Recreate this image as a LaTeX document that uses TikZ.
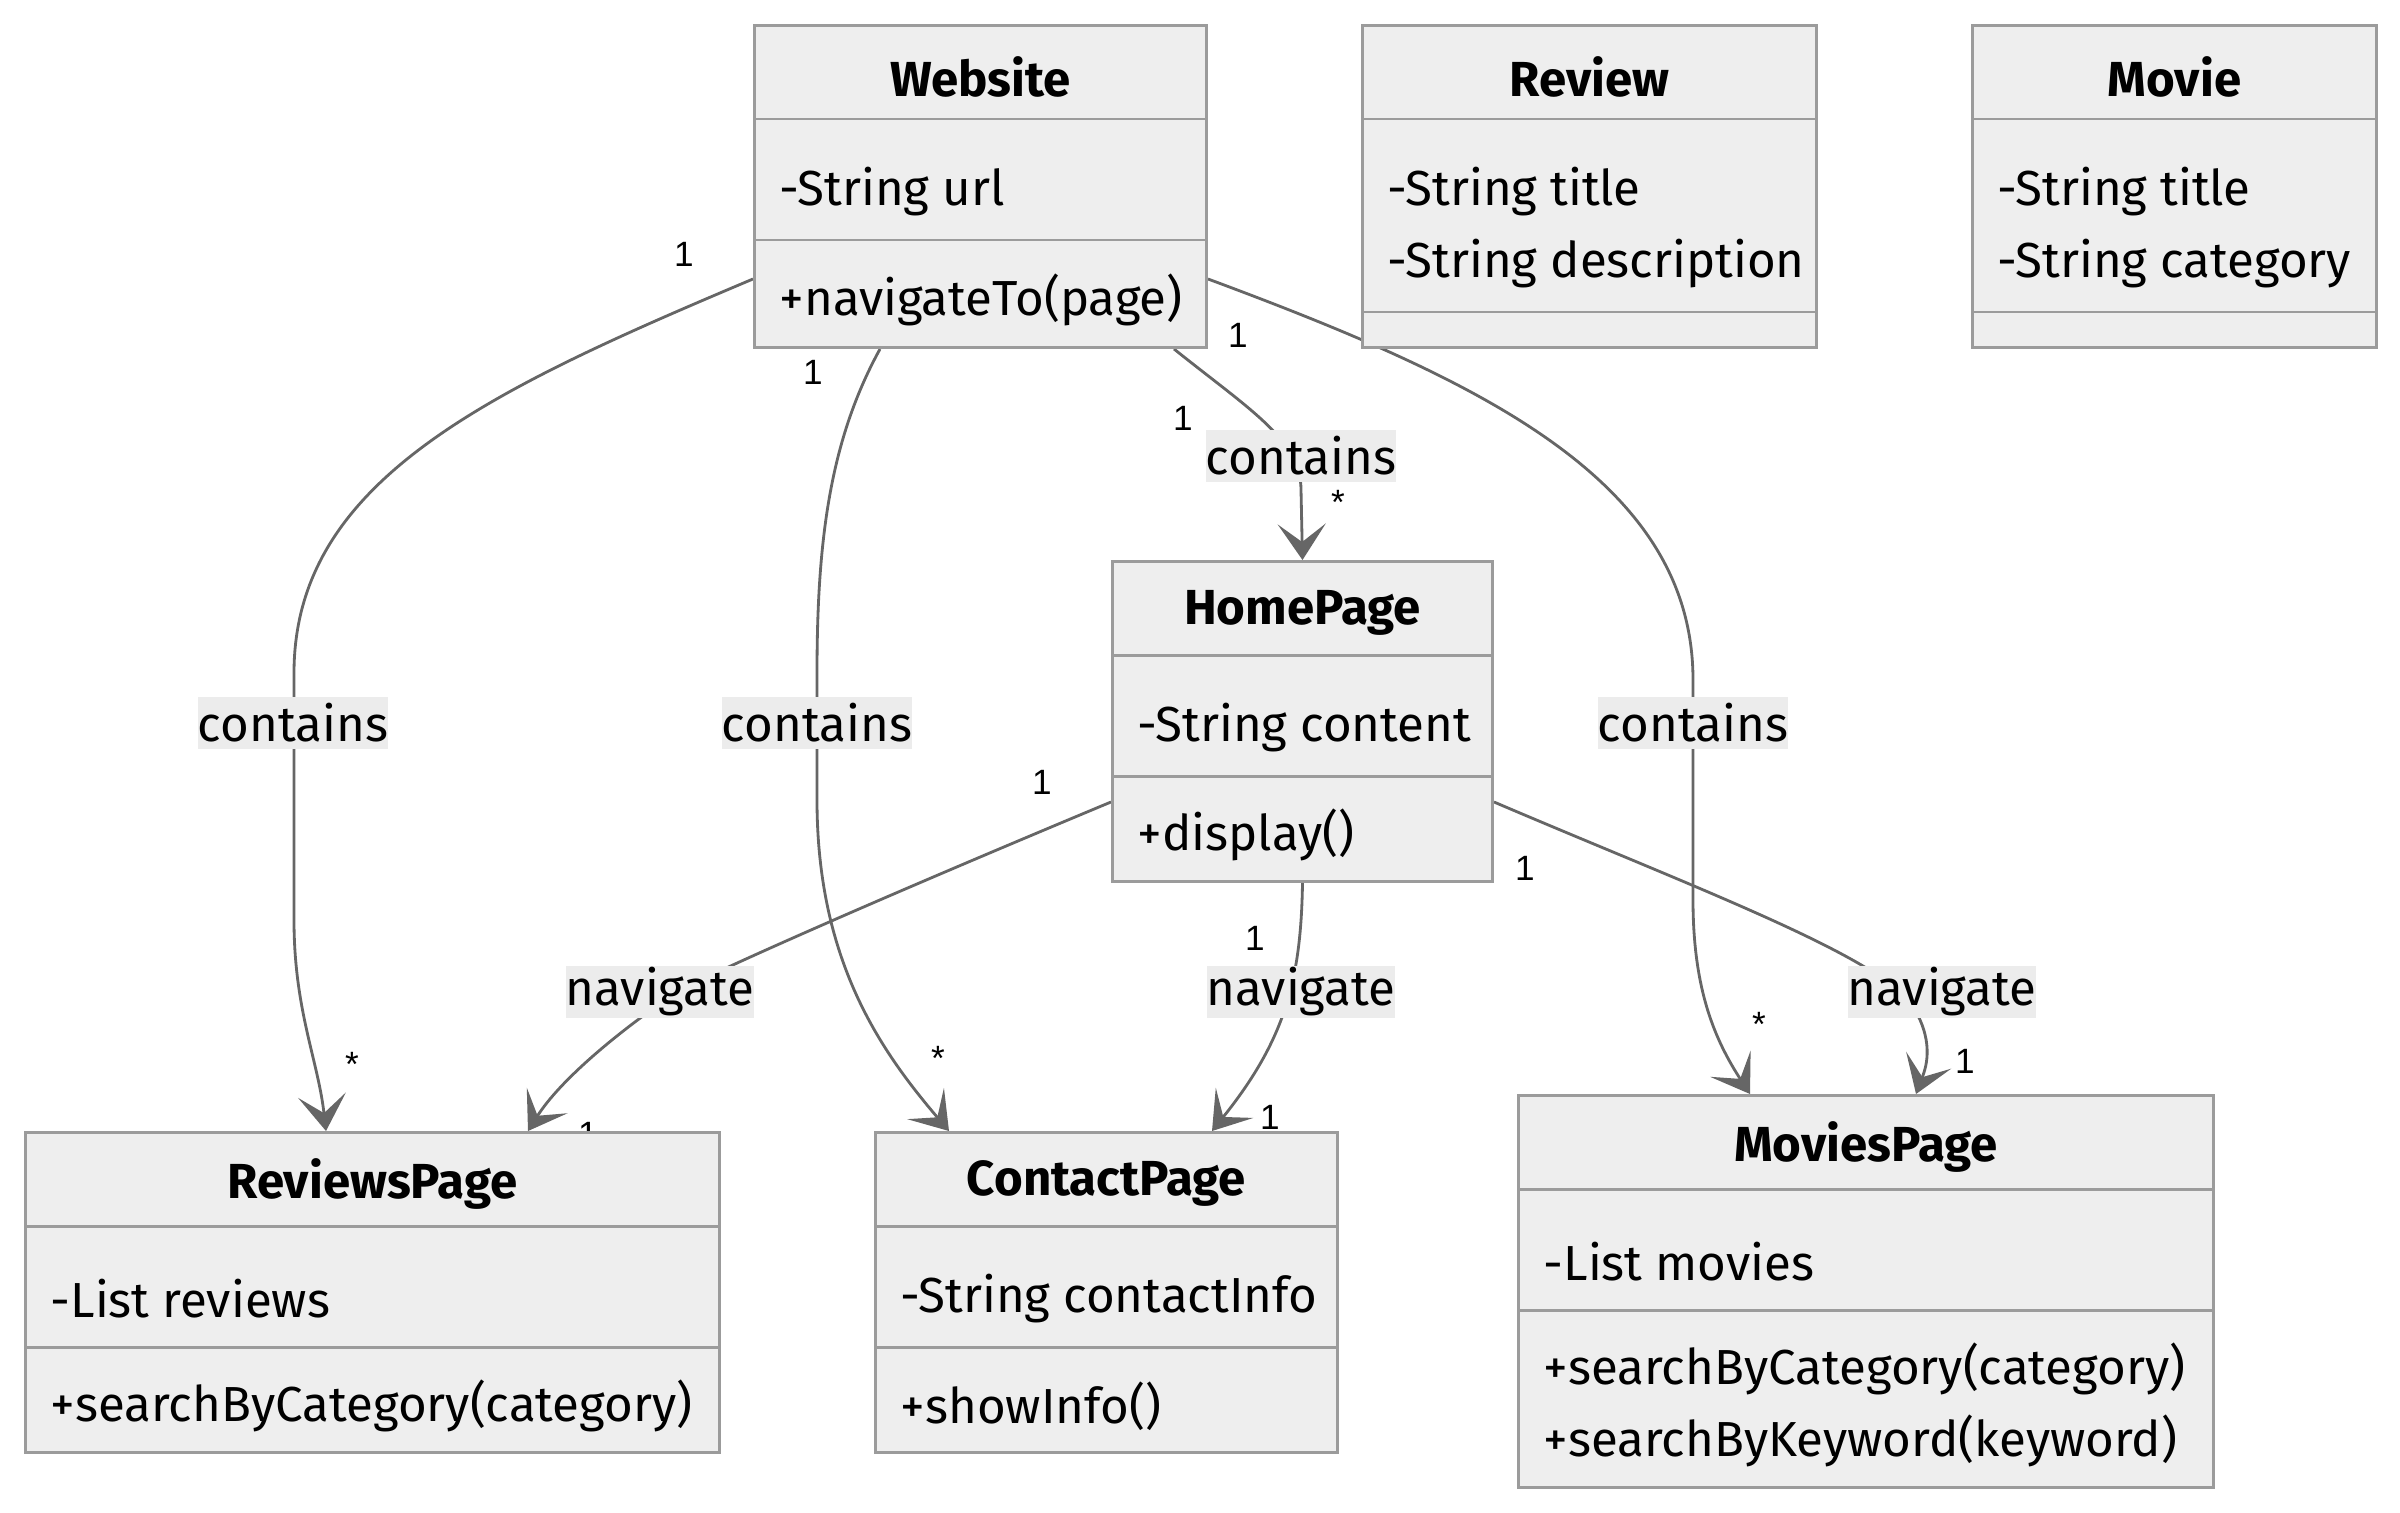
\documentclass[tikz,border=0pt]{standalone}
\usepackage{fontspec}
\setmainfont{Fira Sans}
\newfontfamily\multfont{Liberation Sans}
\usetikzlibrary{arrows.meta, calc, backgrounds}
\definecolor{classfill}{RGB}{238,238,238}
\definecolor{classline}{RGB}{155,155,155}
\definecolor{edgegray}{RGB}{102,102,102}
\definecolor{labelfill}{RGB}{236,236,236}

% name, north west corner, width, header/attribute/method heights, title, attributes, methods
\newcommand{\umlclass}[9]{%
  \node[classbox, minimum width=#3*0.01cm, minimum height={(#4+#5+#6)*0.01cm}] (#1) at #2 {};
  \draw[divider] ($(#1.north west)+(0,#4)$) -- ($(#1.north east)+(0,#4)$);
  \draw[divider] ($(#1.north west)+(0,#4+#5)$) -- ($(#1.north east)+(0,#4+#5)$);
  \node[titletext] (#1-title) at ($(#1.north)+(0,#4/2+5)$) {#7};
  \node[membertext] (#1-attr) at ($(#1.north west)+(26,#4+#5/2+12)$) {#8};
  \node[membertext] (#1-meth) at ($(#1.north west)+(26,#4+#5+#6/2+7)$) {#9};
}

\begin{document}
\begin{tikzpicture}[
  x=0.01cm, y=-0.01cm,
  classbox/.style={draw=classline, fill=classfill, line width=0.85pt, inner sep=0pt, anchor=north west},
  divider/.style={draw=classline, line width=0.85pt},
  titletext/.style={font=\fontsize{14}{17}\selectfont\bfseries, inner sep=0pt},
  membertext/.style={font=\fontsize{14}{20.5}\selectfont, align=left, inner sep=0pt, anchor=west},
  assoc/.style={draw=edgegray, line width=0.8pt, -{Stealth[length=0.36cm, width=0.48cm, inset=0.18cm]}},
  edgelabel/.style={fill=labelfill, font=\fontsize{14}{17}\selectfont, inner sep=0pt, minimum width=1.85cm, minimum height=0.52cm},
  mult/.style={font=\multfont\fontsize{10}{11}\selectfont, inner sep=0pt}
]
  \useasboundingbox (0,0) rectangle (2400,1512);

  \umlclass{website}{(753,24)}{452}{95}{121}{106}{Website}{-String url}{+navigateTo(page)}
  \umlclass{review}{(1361,24)}{454}{95}{193}{34}{Review}{-String title\\-String description}{}
  \umlclass{movie}{(1971,24)}{404}{95}{193}{34}{Movie}{-String title\\-String category}{}
  \umlclass{home}{(1111,560)}{380}{95}{121}{104}{HomePage}{-String content}{+display()}
  \umlclass{reviews}{(24,1131)}{694}{95}{121}{104}{ReviewsPage}{-List reviews}{+searchByCategory(category)}
  \umlclass{contact}{(874,1131)}{462}{95}{121}{104}{ContactPage}{-String contactInfo}{+showInfo()}
  \umlclass{movies}{(1517,1094)}{695}{95}{121}{176}{MoviesPage}{-List movies}{+searchByCategory(category)\\+searchByKeyword(keyword)}

  \begin{scope}[on background layer]
    % contains
    \draw[assoc] ($(website.south west)+(0,-70)$) .. controls (490,390) and (294,480) .. (294,673)
      -- (294,920) .. controls (294,1010) and (318,1060) .. ($(reviews.north west)+(302,0)$);
    \draw[assoc] ($(website.south west)+(127,0)$) .. controls (830,440) and (817,540) .. (817,673)
      -- (817,800) .. controls (817,960) and (880,1050) .. ($(contact.north west)+(75,0)$);
    \draw[assoc] ($(website.south west)+(421,0)$) .. controls (1250,410) and (1301,440) .. (1301,490)
      -- (home.north);
    \draw[assoc] ($(website.south east)+(0,-70)$) .. controls (1480,380) and (1693,480) .. (1693,680)
      -- (1693,900) .. controls (1693,990) and (1715,1040) .. ($(movies.north west)+(233,0)$);
    % navigate
    \draw[assoc] ($(home.south west)+(0,-81)$) .. controls (900,890) and (740,960) .. (680,990)
      .. controls (620,1030) and (560,1080) .. ($(reviews.north west)+(504,0)$);
    \draw[assoc] (home.south) .. controls (1301,980) and (1285,1040) .. ($(contact.north west)+(338,0)$);
    \draw[assoc] ($(home.south east)+(0,-81)$) .. controls (1700,890) and (1890,960) .. (1915,1010)
      .. controls (1935,1045) and (1925,1070) .. ($(movies.north west)+(399,0)$);

    \node[edgelabel] (lbl-reviews) at (293,723) {contains};
    \node[edgelabel] (lbl-contact) at (817,723) {contains};
    \node[edgelabel] (lbl-home) at (1301,456) {contains};
    \node[edgelabel] (lbl-movies) at (1693,723) {contains};
    \node[edgelabel] (nav-reviews) at (660,992) {navigate};
    \node[edgelabel] (nav-contact) at (1301,992) {navigate};
    \node[edgelabel] (nav-movies) at (1942,992) {navigate};

    % multiplicities
    \node[mult] (m1a) at (684,254) {1};
    \node[mult] (m1b) at (352,1064) {*};
    \node[mult] (m2a) at (813,372) {1};
    \node[mult] (m2b) at (938,1058) {*};
    \node[mult] (m3a) at (1183,418) {1};
    \node[mult] (m3b) at (1338,502) {*};
    \node[mult] (m4a) at (1238,335) {1};
    \node[mult] (m4b) at (1759,1024) {*};
    \node[mult] (m5a) at (1042,782) {1};
    \node[mult] (m5b) at (588,1134) {1};
    \node[mult] (m6a) at (1255,938) {1};
    \node[mult] (m6b) at (1270,1117) {1};
    \node[mult] (m7a) at (1525,868) {1};
    \node[mult] (m7b) at (1965,1061) {1};
  \end{scope}
\end{tikzpicture}
\end{document}
